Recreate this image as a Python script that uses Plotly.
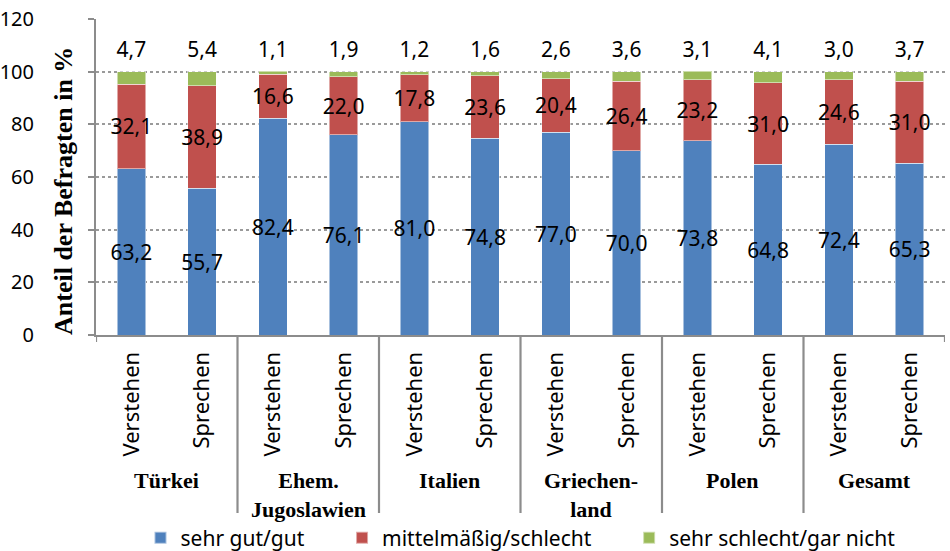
import plotly.graph_objects as go

groups = ["Türkei", "Ehem.<br>Jugoslawien", "Italien", "Griechen-<br>land", "Polen", "Gesamt"]
aspects = ["Verstehen", "Sprechen"]

gut = [63.2, 55.7, 82.4, 76.1, 81.0, 74.8, 77.0, 70.0, 73.8, 64.8, 72.4, 65.3]
mittel = [32.1, 38.9, 16.6, 22.0, 17.8, 23.6, 20.4, 26.4, 23.2, 31.0, 24.6, 31.0]
schlecht = [4.7, 5.4, 1.1, 1.9, 1.2, 1.6, 2.6, 3.6, 3.1, 4.1, 3.0, 3.7]

series_names = ["sehr gut/gut", "mittelmäßig/schlecht", "sehr schlecht/gar nicht"]
colors = ["#4F81BD", "#C0504D", "#9BBB59"]

y_ticks = [0, 20, 40, 60, 80, 100, 120]

n = len(gut)
xs = list(range(n))
labels = [a for g in groups for a in aspects]

def fmt(v):
    return f"{v:.1f}".replace(".", ",")

LABEL_FONT = dict(family="Noto Sans", size=21, color="black")
PAD = "\u00a0" * 6

fig = go.Figure()
series = [(gut, series_names[0] + PAD, colors[0], True),
          (mittel, series_names[1] + PAD, colors[1], True),
          (schlecht, series_names[2], colors[2], False)]
for vals, name, col, show_text in series:
    fig.add_trace(go.Bar(
        x=xs, y=vals, name=name,
        marker=dict(color=col, line=dict(color="rgba(255,255,255,0.5)", width=1)),
        width=0.4,
        text=[fmt(v) for v in vals] if show_text else None,
        textposition="inside" if show_text else "none",
        insidetextanchor="middle",
        textangle=0,
        constraintext="none",
        textfont=LABEL_FONT,
        cliponaxis=False,
        hoverinfo="skip",
    ))

totals = [a + b + c for a, b, c in zip(gut, mittel, schlecht)]
fig.add_trace(go.Scatter(
    x=xs, y=[t + 7.6 for t in totals], mode="text",
    text=[fmt(v) for v in schlecht], textfont=LABEL_FONT,
    showlegend=False, cliponaxis=False, hoverinfo="skip",
))

# plot geometry (px)
top_px, bot_px = 19, 335
ph = bot_px - top_px
def py(px):
    return (bot_px - px) / ph

shapes = []
k = len(aspects)
for gi in range(len(groups) + 1):
    xb = gi * k - 0.5
    long = 0 < gi < len(groups)
    shapes.append(dict(type="line", xref="x", yref="paper", x0=xb, x1=xb,
                       y0=0, y1=py(513) if long else py(342),
                       line=dict(color="#8c8c8c", width=2.2)))

annotations = []
for gi, g in enumerate(groups):
    annotations.append(dict(x=gi * k + (k - 1) / 2, y=py(466), xref="x", yref="paper",
                            text=f"<b>{g}</b>", showarrow=False, xanchor="center", yanchor="top",
                            font=dict(family="Liberation Serif", size=22, color="black")))
annotations.append(dict(x=(63 - 96) / 849, y=py(191), xref="paper", yref="paper",
                        text="<b>Anteil der Befragten in %</b>", textangle=-90, showarrow=False,
                        xanchor="center", yanchor="middle",
                        font=dict(family="Liberation Serif", size=26, color="black")))

fig.update_layout(
    barmode="stack",
    width=950, height=551,
    margin=dict(l=96, r=5, t=top_px, b=551 - bot_px),
    paper_bgcolor="white", plot_bgcolor="white",
    showlegend=True,
    legend=dict(orientation="h", x=0.5, xanchor="center", yref="container",
                y=(551 - 538) / 551, yanchor="middle",
                font=dict(family="Noto Sans", size=21, color="black"),
                traceorder="normal", itemsizing="constant"),
    shapes=shapes, annotations=annotations,
    font=dict(family="Noto Sans", size=20, color="black"),
)
fig.update_xaxes(range=[-0.5, n - 0.5], tickmode="array", tickvals=xs, ticktext=labels,
                 tickangle=-90, showgrid=False, showline=True, linecolor="#8c8c8c", linewidth=2,
                 ticks="", tickfont=dict(family="Noto Sans", size=22, color="black"),
                 ticklabelstandoff=6, zeroline=False, automargin=False)
fig.update_yaxes(range=[0, 120], tickmode="array", tickvals=y_ticks, showgrid=True,
                 gridcolor="#9a9a9a", griddash="dot", gridwidth=1.5,
                 showline=True, linecolor="#8c8c8c", linewidth=2, ticks="outside", ticklen=6,
                 tickcolor="#8c8c8c", tickwidth=2, ticklabelstandoff=50,
                 tickfont=dict(family="Noto Sans", size=20, color="black"), zeroline=False,
                 automargin=False)

fig.write_html("out.html", config={"displayModeBar": False},
               post_script="document.body.style.margin='0';")
